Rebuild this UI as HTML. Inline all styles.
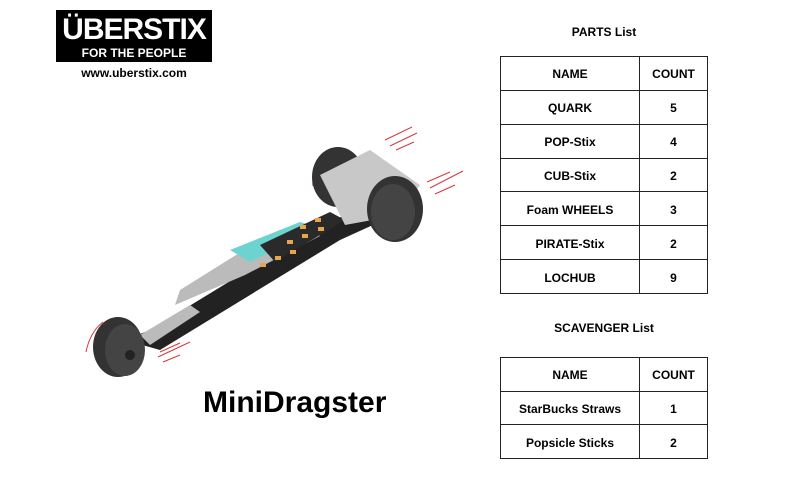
<!DOCTYPE html>
<html><head><meta charset="utf-8"><style>
body{margin:0;width:800px;height:500px;background:#fff;position:relative;font-family:"Liberation Sans",sans-serif;overflow:hidden}
.t{position:absolute;border-collapse:collapse;font-weight:bold;font-size:12px;color:#000}
.t td{border:1px solid #222;text-align:center;padding:2px 0 0 0}
.h{position:absolute;font-weight:bold;font-size:12px}
</style></head><body>
<div style="position:absolute;left:56px;top:10px;width:156px;height:52px;background:#000;color:#fff;text-align:center;overflow:hidden">
<div style="font-size:30px;font-weight:bold;line-height:34px;margin-top:3px;letter-spacing:-1px">ÜBERSTIX</div>
<div style="font-size:12px;font-weight:bold;line-height:12px">FOR THE PEOPLE</div></div>
<div style="position:absolute;left:56px;top:66px;width:156px;text-align:center;font-size:12px;font-weight:bold">www.uberstix.com</div>

<svg style="position:absolute;left:0;top:0" width="800" height="500">
<g stroke="#d9363e" stroke-width="1" fill="none">
<path d="M385 140 L412 127 M390 146 L417 133 M396 150 L414 142"/>
<path d="M427 182 L450 172 M430 188 L463 171 M435 194 L455 185"/>
<path d="M160 352 L180 343 M158 357 L190 342 M163 362 L180 355"/>
<path d="M318 166 Q312 175 313 186"/>
<path d="M103 322 Q90 332 86 352"/>
</g>
<polygon points="125,340 150,330 330,220 385,205 395,215 340,240 160,350" fill="#222"/>
<polygon points="180,290 260,240 310,228 320,236 245,275 175,305" fill="#bbb"/>
<polygon points="230,250 300,222 320,228 250,262" fill="#6dd3d0"/>
<polygon points="260,245 330,212 345,220 275,262" fill="#2a2a2a"/>
<g fill="#e8a54a"><rect x="300" y="225" width="6" height="4"/><rect x="315" y="218" width="6" height="4"/><rect x="287" y="240" width="6" height="4"/><rect x="302" y="234" width="6" height="4"/><rect x="318" y="227" width="6" height="4"/><rect x="275" y="256" width="6" height="4"/><rect x="290" y="250" width="6" height="4"/><rect x="260" y="263" width="6" height="4"/></g>
<polygon points="140,335 190,305 200,312 150,345" fill="#bbb"/>
<ellipse cx="338" cy="177" rx="26" ry="30" fill="#333"/>
<polygon points="320,175 370,150 420,185 400,215 345,225" fill="#c8c8c8"/>
<ellipse cx="395" cy="209" rx="28" ry="33" fill="#333"/>
<ellipse cx="393" cy="212" rx="22" ry="28" fill="#444"/>
<ellipse cx="118" cy="347" rx="25" ry="30" fill="#333"/>
<ellipse cx="125" cy="350" rx="20" ry="26" fill="#444"/>
<circle cx="130" cy="355" r="5" fill="#222"/>
</svg>

<div style="position:absolute;left:203px;top:386px;font-size:30px;font-weight:bold">MiniDragster</div>

<div class="h" style="left:500px;top:25px;width:208px;text-align:center">PARTS List</div>
<table class="t" style="left:500px;top:56px;width:208px;height:238px">
<tr><td style="width:138px">NAME</td><td>COUNT</td></tr>
<tr><td>QUARK</td><td>5</td></tr>
<tr><td>POP-Stix</td><td>4</td></tr>
<tr><td>CUB-Stix</td><td>2</td></tr>
<tr><td>Foam WHEELS</td><td>3</td></tr>
<tr><td>PIRATE-Stix</td><td>2</td></tr>
<tr><td>LOCHUB</td><td>9</td></tr>
</table>
<div class="h" style="left:500px;top:321px;width:208px;text-align:center">SCAVENGER List</div>
<table class="t" style="left:500px;top:357px;width:208px;height:102px">
<tr><td style="width:138px">NAME</td><td>COUNT</td></tr>
<tr><td>StarBucks Straws</td><td>1</td></tr>
<tr><td>Popsicle Sticks</td><td>2</td></tr>
</table>
</body></html>
